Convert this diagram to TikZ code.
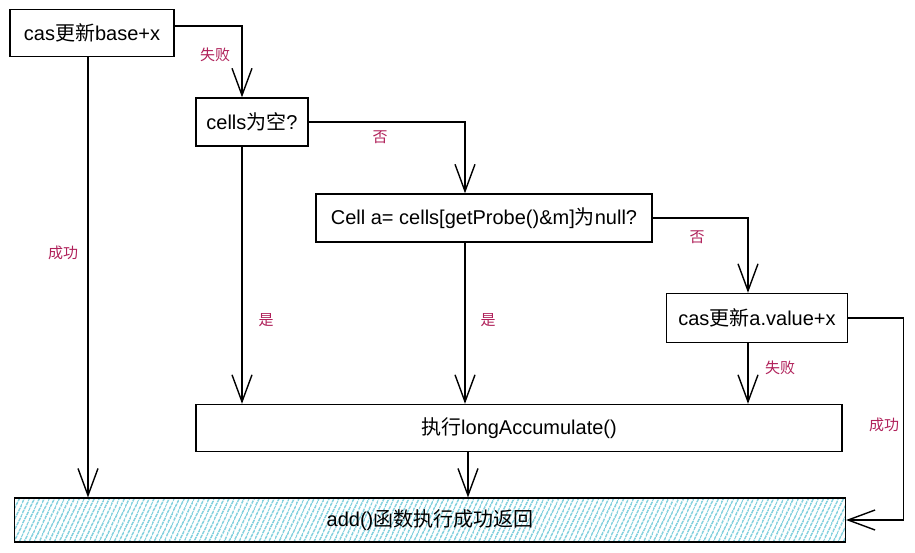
\documentclass[tikz,border=0pt]{standalone}
\usepackage{fontspec}
\setmainfont{Liberation Sans}
\newfontfamily\cjk{Noto Sans CJK SC}
\usetikzlibrary{arrows.meta,patterns.meta}
\definecolor{labelred}{RGB}{176,33,90}
\definecolor{hatchcyan}{RGB}{70,186,206}
\newcommand{\zh}[1]{{\cjk #1}}

\begin{document}
\begin{tikzpicture}[x=1pt,y=-1pt,>={Straight Barb[length=27pt,width=20pt]},
	box/.style={draw,line width=1.4pt,font=\fontsize{20}{24}\selectfont,inner sep=0pt},
	lbl/.style={text=labelred,font=\cjk\fontsize{15}{18}\selectfont},
	line/.style={line width=1.4pt}]
	\fill[white] (0,0) rectangle (915,552);
	\useasboundingbox (0,0) rectangle (915,552);
	\node[box,minimum width=164,minimum height=47] (base) at (92,33) {cas\zh{更新}base+x};
	\node[box,minimum width=112,minimum height=48] (empty) at (252,122) {cells\zh{为空}?};
	\node[box,minimum width=336,minimum height=48] (probe) at (484,218) {Cell a= cells[getProbe()\&m]\zh{为}null?};
	\node[box,minimum width=181,minimum height=49] (casa) at (757,318) {cas\zh{更新}a.value+x};
	\node[box,minimum width=646,minimum height=47] (accum) at (519,428) {\zh{执行}longAccumulate()};
	\node[box,minimum width=831,minimum height=44,pattern={Lines[angle=65,distance=4pt,line width=1.1pt]},pattern color=hatchcyan] (done) at (430,520) {add()\zh{函数执行成功返回}};
	\draw[line,->] ([yshift=7pt]base.east) -| ([xshift=-10pt]empty.north);
	\draw[line,->] ([xshift=-4pt]base.south) -- ([xshift=-4pt]base.south |- done.north);
	\draw[line,->] (empty.east) -| ([xshift=-19pt]probe.north);
	\draw[line,->] ([xshift=-10pt]empty.south) -- ([xshift=-10pt]empty.south |- accum.north);
	\draw[line,->] ([xshift=-19pt]probe.south) -- ([xshift=-19pt]probe.south |- accum.north);
	\draw[line,->] (probe.east) -| ([xshift=-9pt]casa.north);
	\draw[line,->] ([xshift=-9pt]casa.south) -- ([xshift=-9pt]casa.south |- accum.north);
	\draw[line,->] (casa.east) -- ++(55,0) |- (done.east);
	\draw[line,->] ([xshift=-51pt]accum.south) -- ([xshift=-51pt]accum.south |- done.north);
	\node[lbl] (fail1) at (215,55) {失败};
	\node[lbl] (ok1) at (63,253) {成功};
	\node[lbl] (no1) at (380,137) {否};
	\node[lbl] (yes1) at (266,320) {是};
	\node[lbl] (yes2) at (488,320) {是};
	\node[lbl] (no2) at (697,237) {否};
	\node[lbl] (fail2) at (780,368) {失败};
	\node[lbl] (ok2) at (884,425) {成功};
\end{tikzpicture}
\end{document}
